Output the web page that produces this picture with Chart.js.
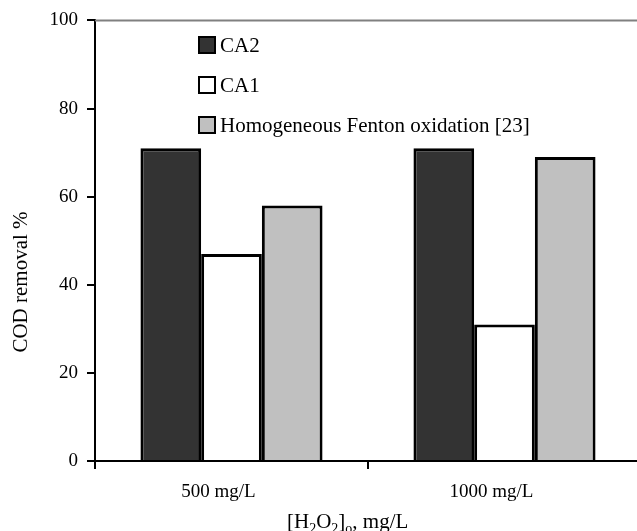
<!DOCTYPE html>
<html>
<head>
<meta charset="utf-8">
<script src="https://cdn.jsdelivr.net/npm/chart.js@4/dist/chart.umd.min.js"></script>
<style>
  html, body { margin: 0; padding: 0; overflow: hidden; background: #fff; }
  #wrap { width: 641px; height: 531px; }
</style>
</head>
<body>
<div id="wrap"><canvas id="chart" width="641" height="531"></canvas></div>
<script>
const categories = ["500 mg/L", "1000 mg/L"];
const seriesNames = ["CA2", "CA1", "Homogeneous Fenton oxidation [23]"];
const ca2 = [71, 71];
const ca1 = [47, 31];
const fenton = [58, 69];
const yTicks = [0, 20, 40, 60, 80, 100];

const serif = "'Liberation Serif', 'Times New Roman', serif";

// legend drawn inside the plot, top-left
const boxLegend = {
  id: "boxLegend",
  afterDraw(chart) {
    const ctx = chart.ctx;
    ctx.save();
    chart.data.datasets.forEach((ds, i) => {
      const cy = 45 + i * 40;
      ctx.fillStyle = ds.backgroundColor;
      ctx.fillRect(199, cy - 8, 16, 16);
      ctx.lineWidth = 2;
      ctx.strokeStyle = "#000";
      ctx.strokeRect(199, cy - 8, 16, 16);
      ctx.fillStyle = "#000";
      ctx.font = "21px " + serif;
      ctx.textBaseline = "middle";
      ctx.fillText(ds.label, 220, cy + 1);
    });
    ctx.restore();
  }
};

// top frame line and axis titles
const extras = {
  id: "extras",
  afterDraw(chart) {
    const ctx = chart.ctx;
    const a = chart.chartArea;
    ctx.save();
    ctx.strokeStyle = "#808080";
    ctx.lineWidth = 2;
    ctx.beginPath();
    ctx.moveTo(a.left, a.top);
    ctx.lineTo(a.right, a.top);
    ctx.stroke();

    // y title
    ctx.fillStyle = "#000";
    ctx.font = "21px " + serif;
    ctx.translate(27, 282);
    ctx.rotate(-Math.PI / 2);
    ctx.textAlign = "center";
    ctx.textBaseline = "alphabetic";
    ctx.fillText("COD removal %", 0, 0);
    ctx.restore();

    // x title with subscripts
    ctx.save();
    ctx.fillStyle = "#000";
    ctx.textBaseline = "alphabetic";
    const parts = [["[H", 0], ["2", 1], ["O", 0], ["2", 1], ["]", 0], ["o", 1], [", mg/L", 0]];
    let x = 287;
    const base = 528;
    parts.forEach(([t, sub]) => {
      ctx.font = (sub ? "14px " : "21px ") + serif;
      ctx.fillText(t, x, sub ? base + 5 : base);
      x += ctx.measureText(t).width;
    });
    ctx.restore();
  }
};

new Chart(document.getElementById("chart"), {
  type: "bar",
  data: {
    labels: categories,
    datasets: [
      { label: seriesNames[0], data: ca2, backgroundColor: "#333333" },
      { label: seriesNames[1], data: ca1, backgroundColor: "#ffffff" },
      { label: seriesNames[2], data: fenton, backgroundColor: "#c0c0c0" }
    ].map(d => Object.assign(d, { borderColor: "#000", borderWidth: 3 }))
  },
  options: {
    responsive: false,
    animation: false,
    layout: { padding: { top: 18, right: 0, left: 0, bottom: 0 } },
    datasets: { bar: { categoryPercentage: 0.667, barPercentage: 1 } },
    plugins: { legend: { display: false }, tooltip: { enabled: false } },
    scales: {
      x: {
        grid: { offset: true, drawOnChartArea: false, tickLength: 8, color: "#000", lineWidth: 2 },
        border: { color: "#000", width: 2 },
        ticks: { font: { family: serif, size: 19 }, color: "#000", padding: 12, labelOffset: -13, maxRotation: 0 },
        afterFit(s) { s.height = 70; }
      },
      y: {
        min: 0, max: 100,
        afterBuildTicks(s) { s.ticks = yTicks.map(v => ({ value: v })); },
        grid: { drawOnChartArea: false, tickLength: 8, color: "#000", lineWidth: 2 },
        border: { color: "#000", width: 2 },
        ticks: { font: { family: serif, size: 19 }, color: "#000", padding: 9 },
        afterFit(s) { s.width = 95; }
      }
    }
  },
  plugins: [boxLegend, extras]
});
</script>
</body>
</html>
